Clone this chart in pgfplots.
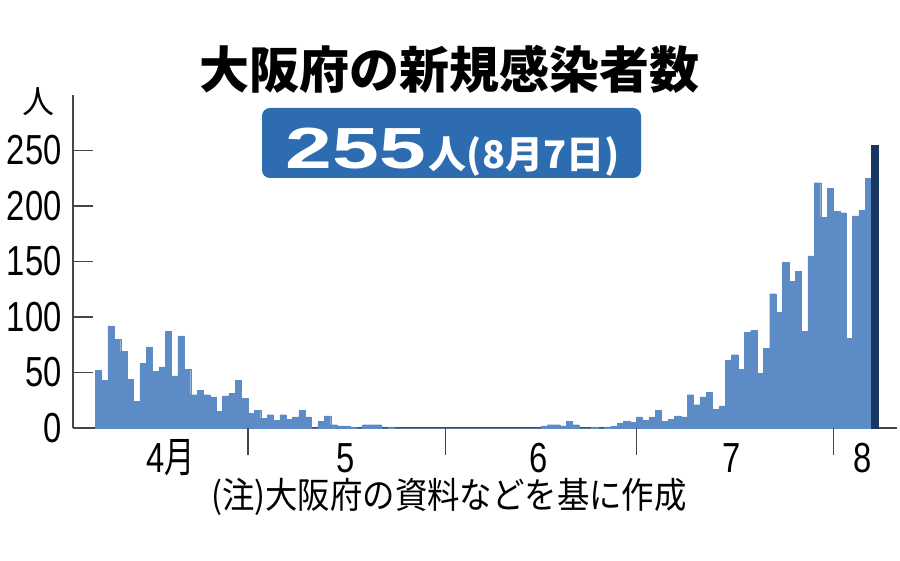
\documentclass[border=0pt]{standalone}
\usepackage{pgfplots}
\usepackage{pgfplotstable}
\pgfplotsset{compat=1.18}
\usepackage{fontspec}
\setmainfont{Liberation Sans}
\newfontfamily\narrow[FakeStretch=0.78]{Liberation Sans}
\newfontfamily\wide[FakeStretch=1.45]{Liberation Sans}
\newfontfamily\cjk{Noto Sans CJK JP}
\newfontfamily\cjknarrow[FakeStretch=0.72]{Noto Sans CJK JP}
\newfontfamily\cjknote[FakeStretch=0.9]{Noto Sans CJK JP}
\definecolor{barblue}{RGB}{92,139,198}
\definecolor{lastbar}{RGB}{24,56,98}
\definecolor{badge}{RGB}{46,108,178}
\definecolor{axisgray}{RGB}{70,70,70}

% x = day index from April 1 (0-based) + 0.5
\pgfplotstableread{
x y
6.5 52
7.5 43
8.5 92
9.5 80
10.5 69
11.5 44
12.5 24
13.5 58
14.5 73
15.5 51
16.5 55
17.5 87
18.5 47
19.5 83
20.5 53
21.5 30
22.5 34
23.5 30
24.5 28
25.5 15
26.5 29
27.5 31
28.5 43
29.5 27
30.5 13
31.5 16
32.5 9
33.5 12
34.5 7
35.5 12
36.5 8
37.5 10
38.5 16
39.5 10
40.5 0
41.5 6
42.5 11
43.5 3
44.5 2
45.5 2
46.5 1
47.5 0
48.5 3
49.5 3
50.5 3
51.5 0
52.5 1
53.5 0
54.5 0
55.5 0
56.5 0
57.5 0
58.5 0
59.5 0
60.5 0
61.5 0
62.5 0
63.5 0
64.5 0
65.5 0
66.5 0
67.5 0
68.5 0
69.5 0
70.5 0
71.5 0
72.5 0
73.5 0
74.5 0
75.5 0
76.5 2
77.5 3
78.5 3
79.5 2
80.5 6
81.5 3
82.5 0
83.5 0
84.5 1
85.5 0
86.5 1
87.5 1.5
88.5 4.5
89.5 6.5
90.5 5
91.5 10
92.5 7
93.5 10
94.5 16
95.5 6
96.5 8
97.5 11
98.5 10
99.5 30
100.5 21
101.5 28
102.5 32
103.5 17
104.5 20
105.5 61
106.5 66
107.5 53
108.5 86
109.5 88
110.5 49
111.5 72
112.5 121
113.5 104
114.5 149
115.5 132
116.5 141
117.5 87
118.5 155
119.5 221
120.5 190
121.5 216
122.5 195
123.5 194
124.5 81
125.5 191
126.5 196
127.5 225
}\dailytable

\pgfplotstableread{
x y
128.5 255
}\lasttable

\begin{document}
\begin{tikzpicture}[x=1pt,y=1pt]
\useasboundingbox (0,0) rectangle (450,280.5);

% title
\node[font=\cjk\bfseries\fontsize{25}{25}\selectfont, inner sep=0pt] at (224.5,246) {大阪府の新規感染者数};
% badge
\fill[badge, rounded corners=4pt] (131,191.5) rectangle (320.5,226.5);
\node[anchor=base, text=white, inner sep=0pt] at (226.25,196)
  {{\wide\bfseries\fontsize{29}{29}\selectfont 255}\hspace{1.5pt}{\cjk\bfseries\fontsize{19}{19}\selectfont 人(8月7日)}};
% unit
\node[font=\cjk\fontsize{16}{16}\selectfont, inner sep=0pt] at (19.25,229.5) {人};
% note
\node[font=\cjknote\fontsize{18}{18}\selectfont, inner sep=0pt] at (224.5,32) {(注)大阪府の資料などを基に作成};

\begin{axis}[
  at={(36.5pt,66.5pt)}, anchor=south west,
  scale only axis, width=412pt, height=166.5pt,
  xmin=2.5, xmax=132, ymin=0, ymax=300,
  axis x line=bottom, axis y line=left,
  axis line style={-, draw=axisgray, line width=0.75pt},
  tick align=inside, major tick length=10pt,
  ytick={0,50,100,150,200,250},
  yticklabels={0,50,100,150,200,250},
  ytick style={draw=axisgray, line width=0.75pt},
  yticklabel style={font=\narrow\fontsize{21}{21}\selectfont, anchor=east, inner sep=0pt, xshift=-5.5pt},
  xtick={17.9,45.3,75.6,106,126.6},
  xticklabels={{\narrow 4}{\cjknarrow 月},5,6,7,8},
  xtick style={draw=none},
  xticklabel style={font=\narrow\fontsize{21}{21}\selectfont, anchor=base, inner sep=0pt, yshift=-22.5pt},
  /pgf/number format/assume math mode=true,
  clip=false,
]
\addplot[ybar, bar width=1, bar shift=0pt, fill=barblue, draw=barblue, line width=0.15pt] table[x=x,y=y]{\dailytable};
\addplot[ybar, bar width=1, bar shift=0pt, fill=lastbar, draw=lastbar, line width=0.15pt] table[x=x,y=y]{\lasttable};
\end{axis}

\begin{axis}[
  at={(36.5pt,66.5pt)}, anchor=south west,
  scale only axis, width=412pt, height=166.5pt,
  xmin=2.5, xmax=132, ymin=0, ymax=300,
  axis x line*=bottom, hide y axis,
  axis line style={draw=none},
  xtick={30,61,91,122}, xticklabels={},
  tick align=outside, major tick length=13.5pt,
  xtick style={draw=axisgray, line width=0.6pt},
]
\addplot[draw=none] coordinates {(3,0)};
\end{axis}
\end{tikzpicture}
\end{document}
